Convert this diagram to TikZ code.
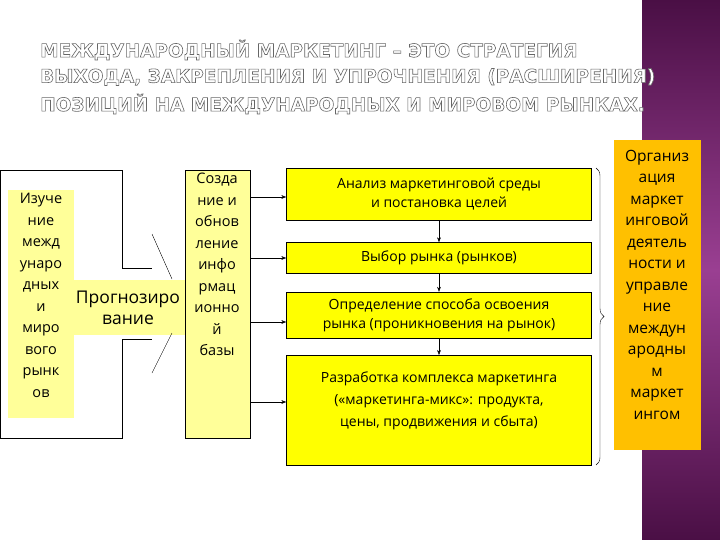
\documentclass[tikz,border=0pt]{standalone}
\usepackage{fontspec}
\setmainfont{Open Sans}
\newfontfamily\titlefont{DejaVu Sans}
\usetikzlibrary{arrows.meta,decorations.pathreplacing}
\definecolor{ylw}{HTML}{FFFF00}
\definecolor{pale}{HTML}{FFFF99}
\definecolor{orng}{HTML}{FFC000}
\definecolor{purpA}{HTML}{4A0F45}
\definecolor{purpB}{HTML}{9A3F92}
\tikzset{
 box/.style={draw,fill=ylw,minimum width=305pt,align=center,font=\fontsize{14}{19}\selectfont,inner sep=0pt},
 arr/.style={-{Stealth[length=5pt]},thin},
 col/.style={align=center,font=\fontsize{14.5}{21.5}\selectfont,inner sep=0pt},
 ttl/.style={anchor=west,font=\titlefont\bfseries\fontsize{18.5}{20}\selectfont,text=white,inner sep=0pt}
}
\newcommand{\outl}[1]{\special{pdf:code q 2 Tr 0.6 w 0.4 0.4 0.4 RG}#1\special{pdf:code Q}}
\begin{document}
\begin{tikzpicture}[x=1pt,y=-1pt]
\useasboundingbox (0,0) rectangle (720,540);
\fill[white] (0,0) rectangle (720,540);
\shade[top color=purpA,bottom color=purpA,middle color=purpB] (642,0) rectangle (720,540);
% title
\node[ttl] (t1) at (40,50) {\outl{МЕЖДУНАРОДНЫЙ МАРКЕТИНГ – ЭТО СТРАТЕГИЯ}};
\node[ttl] (t2) at (40,77) {\outl{ВЫХОДА, ЗАКРЕПЛЕНИЯ И УПРОЧНЕНИЯ (РАСШИРЕНИЯ)}};
\node[ttl] (t3) at (40,104) {\outl{ПОЗИЦИЙ НА МЕЖДУНАРОДНЫХ И МИРОВОМ РЫНКАХ.}};
% H shape
\fill[pale] (8,190) rectangle (74,418);
\fill[pale] (74,280) rectangle (185,335);
\draw (122,268) -- (122,170) -- (0,170) -- (0,438) -- (122,438) -- (122,339);
\draw (122,268) -- (152,268);
\draw (122,339) -- (152,339);
\draw (152,234) -- (172,279);
\draw (172,333) -- (152,373);
\node[draw,fill=pale,minimum width=65pt,minimum height=268pt,anchor=north west,inner sep=0pt] (cr) at (185,170) {};
\node[col,anchor=north] (lt) at (41,193) {Изуче\\ние\\межд\\унаро\\дных\\и\\миро\\вого\\рынк\\ов};
\node[col,font=\fontsize{17.5}{21}\selectfont] (mid) at (128,308) {Прогнозиро\\вание};
\node[col,anchor=north] (ct) at (217,173) {Созда\\ние и\\обнов\\ление\\инфо\\рмац\\ионно\\й\\базы};
% right boxes
\node[box,minimum height=52pt] (b1) at (439,194) {Анализ маркетинговой среды\\и постановка целей};
\node[box,minimum height=31pt] (b2) at (439,258) {Выбор рынка (рынков)};
\node[box,minimum height=46pt] (b3) at (439,315) {Определение способа освоения\\рынка (проникновения на рынок)};
\node[box,minimum height=110pt,anchor=north] (b4) at (439,355) {};
\node[align=center,font=\fontsize{14}{22}\selectfont,anchor=north,inner sep=0pt] (b4t) at (439,372) {Разработка комплекса маркетинга\\(«маркетинга-микс»: продукта,\\цены, продвижения и сбыта)};
\foreach \b/\y in {b1/197,b2/258,b3/322,b4/402}{
 \coordinate (s\b) at (250,\y);
 \draw[arr] (s\b) -- (\b.west |- s\b);}
\draw[arr] (b1.south) -- (b2.north);
\draw[arr] (b2.south) -- (b3.north);
\draw[arr] (b3.south) -- (b4.north);
\coordinate (br1) at (596,168);
\coordinate (br2) at (596,465);
\draw[decorate,decoration={brace,amplitude=8pt}] (br1) -- (br2);
\node[fill=orng,minimum width=87pt,minimum height=310pt,anchor=north west,inner sep=0pt] (ob) at (614,140) {};
\node[col,anchor=north,font=\fontsize{15.5}{21.5}\selectfont] (ot) at (657,150) {Организ\\ация\\маркет\\инговой\\деятель\\ности и\\управле\\ние\\междун\\ародны\\м\\маркет\\ингом};
\end{tikzpicture}
\end{document}
